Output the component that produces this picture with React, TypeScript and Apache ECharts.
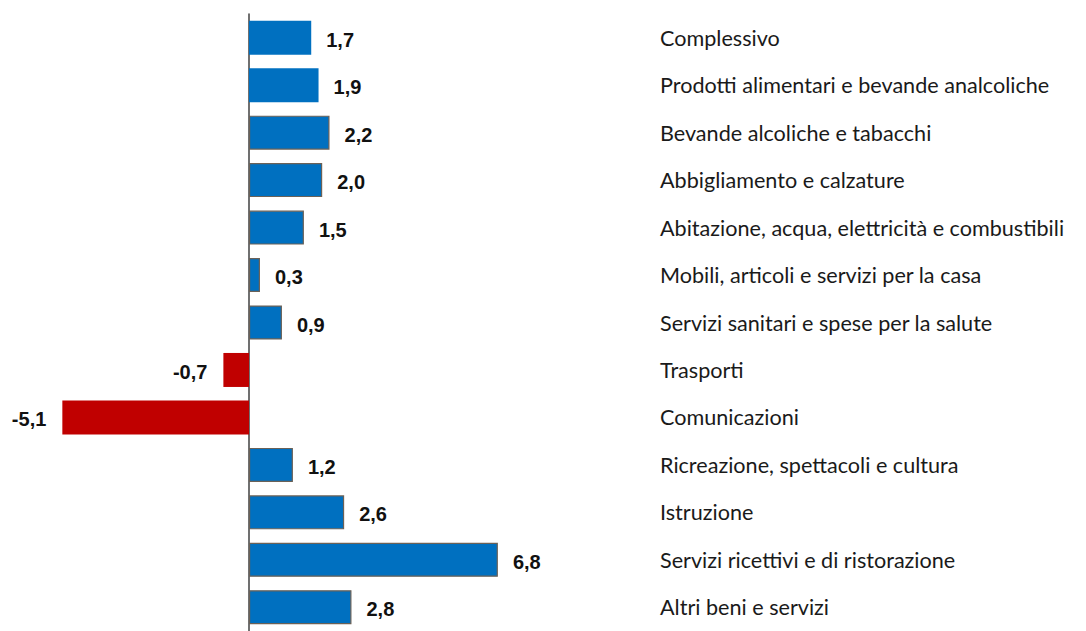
import React, { useEffect, useRef } from "react";
import * as echarts from "echarts";

const categories = [
  "Complessivo",
  "Prodotti alimentari e bevande analcoliche",
  "Bevande alcoliche e tabacchi",
  "Abbigliamento e calzature",
  "Abitazione, acqua, elettricità e combustibili",
  "Mobili, articoli e servizi per la casa",
  "Servizi sanitari e spese per la salute",
  "Trasporti",
  "Comunicazioni",
  "Ricreazione, spettacoli e cultura",
  "Istruzione",
  "Servizi ricettivi e di ristorazione",
  "Altri beni e servizi",
];
const values = [1.7, 1.9, 2.2, 2.0, 1.5, 0.3, 0.9, -0.7, -5.1, 1.2, 2.6, 6.8, 2.8];
const outlined = [false, false, true, true, true, true, true, false, false, true, true, true, true];

export default function App() {
  const ref = useRef<HTMLDivElement>(null);
  useEffect(() => {
    if (!ref.current) return;
    const chart = echarts.init(ref.current, undefined, { renderer: "svg" });
    const pxPerUnit = 36.6;
    const zeroX = 249;
    const xMin = -6;
    const xMax = 8;
    const left = zeroX + xMin * pxPerUnit;
    const width = (xMax - xMin) * pxPerUnit;
    chart.setOption({
      animation: false,
      grid: { left, width, top: 14, height: 13 * 47.83 },
      xAxis: {
        type: "value",
        min: xMin,
        max: xMax,
        show: false,
      },
      yAxis: [
        {
          type: "category",
          data: categories,
          inverse: true,
          axisLine: { show: true, onZero: true, lineStyle: { color: "#404040", width: 1.5 } },
          axisTick: { show: false },
          axisLabel: { show: false },
        },
        {
          type: "category",
          data: categories,
          inverse: true,
          position: "right",
          axisLine: { show: false },
          axisTick: { show: false },
          axisLabel: {
            margin: 660 - (left + width),
            align: "left",
            fontFamily: "Lato",
            fontSize: 21.6,
            color: "#1a1a1a",
          },
        },
      ],
      series: [
        {
          type: "bar",
          barWidth: 34,
          data: values.map((v, i) => ({
            value: v,
            itemStyle: {
              color: v < 0 ? "#C00000" : "#0070C0",
              borderColor: outlined[i] ? "#6b6157" : "transparent",
              borderWidth: outlined[i] ? 1.2 : 0,
            },
            label: {
              show: true,
              position: v < 0 ? "left" : "right",
              distance: v < 0 ? 16 : 15,
              offset: [0, 2],
              formatter: () => v.toFixed(1).replace(".", ","),
              fontFamily: "Liberation Sans",
              fontWeight: "bold",
              fontSize: 20,
              color: "#111",
            },
          })),
        },
      ],
    });
    return () => chart.dispose();
  }, []);
  return (
    <div
      ref={ref}
      style={{ position: "fixed", left: 0, top: 0, width: 1086, height: 631, background: "#fff" }}
    />
  );
}
